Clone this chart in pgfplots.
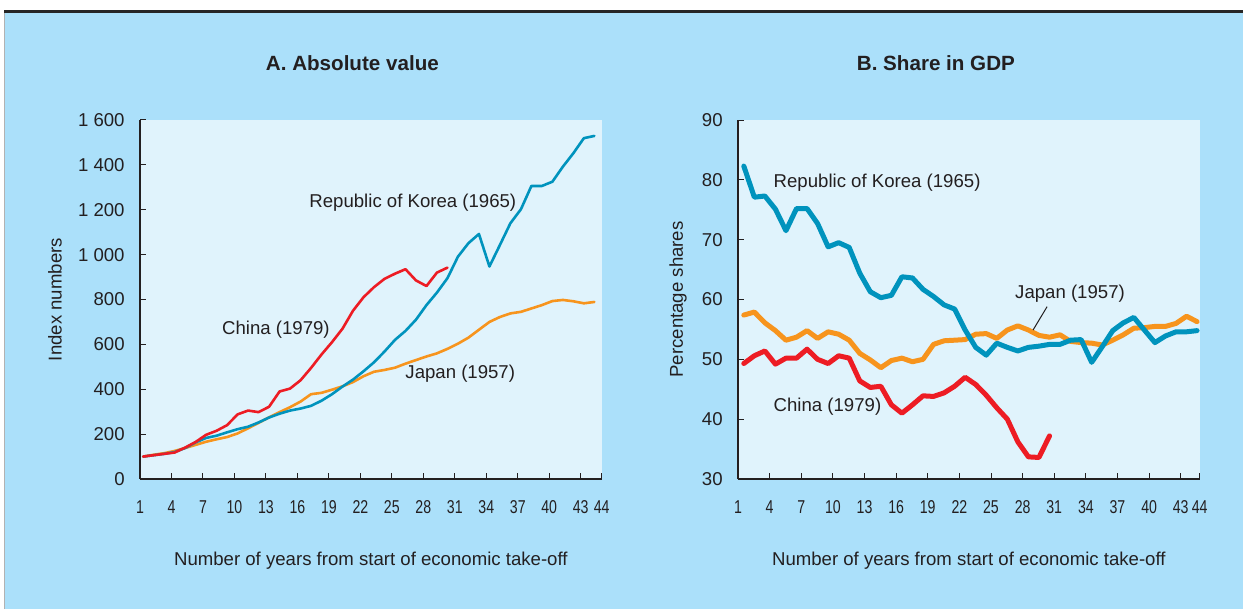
\documentclass[border=0pt]{standalone}
\usepackage{fontspec}
\setmainfont{Liberation Sans}
\newfontfamily\narrowfont{Liberation Sans}[FakeStretch=0.76]
\usepackage{pgfplots}
\pgfplotsset{compat=1.18}
\definecolor{outerbg}{RGB}{171,224,250}
\definecolor{innerbg}{RGB}{224,243,252}
\definecolor{korea}{RGB}{0,147,189}
\definecolor{japan}{RGB}{247,148,29}
\definecolor{china}{RGB}{237,28,36}
\definecolor{txt}{RGB}{35,31,32}
\newcommand{\tfont}{\fontsize{9.3bp}{11bp}\selectfont}
\tikzset{lab/.style={font=\tfont, text=txt, inner sep=0pt, anchor=base west}}
\pgfplotsset{
  panel/.style={
    scale only axis,
    width=230.85bp, height=179.5bp,
    axis x line*=bottom, axis y line*=left,
    axis line style={-, txt, line width=0.6bp},
    axis background/.style={fill=innerbg},
    tick style={txt, line width=0.5bp},
    tick align=inside,
    major tick length=3bp,
    tick label style={font=\tfont, text=txt, inner sep=0pt},
    yticklabel style={anchor=east, xshift=-7.5bp},
    xticklabel style={anchor=north, yshift=-10.5bp, font=\narrowfont\tfont},
    xticklabels={1,4,7,10,13,16,19,22,25,28,31,34,37,40,43,44},
    label style={font=\tfont, text=txt, inner sep=0pt},
    title style={font=\fontsize{10.3bp}{12bp}\selectfont\bfseries, text=txt, inner sep=0pt, anchor=base},
    xlabel={Number of years from start of economic take-off},
    every axis plot/.append style={line join=round, line cap=round},
    clip=false,
  },
}
\begin{document}
\begin{tikzpicture}
\fill[white] (0bp,0bp) rectangle (621.5bp,304.5bp);
\fill[outerbg] (2bp,0bp) rectangle (621.5bp,298bp);
\draw[black!30, line width=0.4bp] (2bp,0bp) -- (2bp,298bp);
\fill[black!85] (2bp,298bp) rectangle (621.5bp,299.6bp);

% Panel A
\begin{axis}[panel,
  at={(70bp,65bp)}, anchor=south west,
  xmin=0.7, xmax=44.7,
  xtick={0.7,3.7,6.7,9.7,12.7,15.7,18.7,21.7,24.7,27.7,30.7,33.7,36.7,39.7,42.7,44.7},
  ymin=0, ymax=1600,
  ytick={0,200,400,600,800,1000,1200,1400,1600},
  yticklabels={0,200,400,600,800,1 000,1 200,1 400,1 600},
  title={A. Absolute value},
  title style={at={(axis description cs:0.46,1)}, yshift=18.85bp},
  ylabel={Index numbers},
  ylabel style={at={(axis description cs:-0.184,0.5)}, anchor=center},
  xlabel style={at={(axis description cs:0.5,-0.2033)}, anchor=north},
]
\addplot[japan, line width=1.3bp] coordinates {
(1,100)(2,108)(3,115)(4,125)(5,138)(6,152)(7,166)(8,177)(9,187)(10,203)
(11,226)(12,250)(13,275)(14,298)(15,320)(16,345)(17,378)(18,384)(19,398)(20,413)
(21,432)(22,458)(23,478)(24,486)(25,496)(26,514)(27,530)(28,546)(29,560)(30,580)
(31,603)(32,630)(33,665)(34,700)(35,722)(36,738)(37,745)(38,760)(39,775)(40,793)
(41,798)(42,792)(43,783)(44,789)};
\addplot[korea, line width=1.3bp] coordinates {
(1,100)(2,106)(3,112)(4,120)(5,138)(6,163)(7,183)(8,193)(9,208)(10,222)
(11,233)(12,252)(13,274)(14,291)(15,305)(16,314)(17,326)(18,349)(19,378)(20,412)
(21,443)(22,480)(23,520)(24,568)(25,620)(26,660)(27,710)(28,775)(29,831)(30,895)
(31,991)(32,1051)(33,1092)(34,947)(35,1043)(36,1140)(37,1202)(38,1306)(39,1306)(40,1325)
(41,1392)(42,1452)(43,1519)(44,1529)};
\addplot[china, line width=1.3bp] coordinates {
(1,100)(2,106)(3,112)(4,118)(5,140)(6,165)(7,197)(8,215)(9,240)(10,288)
(11,305)(12,298)(13,322)(14,390)(15,403)(16,440)(17,495)(18,555)(19,610)(20,670)
(21,750)(22,810)(23,855)(24,892)(25,915)(26,935)(27,885)(28,860)(29,920)(30,942)};
\node[lab] at (axis cs:16.81,1208) {Republic of Korea (1965)};
\node[lab] at (axis cs:8.49,646) {China (1979)};
\node[lab] at (axis cs:25.96,450) {Japan (1957)};
\end{axis}

% Panel B
\begin{axis}[panel,
  at={(369bp,65bp)}, anchor=south west,
  xmin=0.45, xmax=44.25,
  xtick={0.45,3.45,6.45,9.45,12.45,15.45,18.45,21.45,24.45,27.45,30.45,33.45,36.45,39.45,42.45,44.25},
  ymin=30, ymax=90,
  ytick={30,40,50,60,70,80,90},
  yticklabels={30,40,50,60,70,80,90},
  title={B. Share in GDP},
  title style={at={(axis description cs:0.4286,1)}, yshift=18.85bp},
  ylabel={Percentage shares},
  ylabel style={at={(axis description cs:-0.13,0.5)}, anchor=center},
  xlabel style={at={(axis description cs:0.5,-0.2033)}, anchor=north},
]
\addplot[japan, line width=2.5bp] coordinates {
(1,57.4)(2,57.9)(3,56.1)(4,54.8)(5,53.2)(6,53.7)(7,54.8)(8,53.5)(9,54.6)(10,54.2)
(11,53.2)(12,51.0)(13,49.9)(14,48.6)(15,49.8)(16,50.2)(17,49.6)(18,50.0)(19,52.5)(20,53.1)
(21,53.2)(22,53.3)(23,54.2)(24,54.3)(25,53.5)(26,54.9)(27,55.6)(28,54.9)(29,54.0)(30,53.7)
(31,54.1)(32,53.0)(33,52.8)(34,52.7)(35,52.4)(36,53.2)(37,54.1)(38,55.2)(39,55.3)(40,55.5)
(41,55.5)(42,56.0)(43,57.2)(44,56.3)};
\addplot[china, line width=2.5bp] coordinates {
(1,49.3)(2,50.6)(3,51.4)(4,49.2)(5,50.2)(6,50.2)(7,51.7)(8,50.0)(9,49.3)(10,50.6)
(11,50.2)(12,46.4)(13,45.3)(14,45.5)(15,42.4)(16,41.0)(17,42.4)(18,43.9)(19,43.8)(20,44.4)
(21,45.5)(22,47.0)(23,45.8)(24,44.0)(25,41.9)(26,40.0)(27,36.2)(28,33.7)(29,33.6)(30,37.2)};
\addplot[korea, line width=2.5bp] coordinates {
(1,82.3)(2,77.1)(3,77.3)(4,75.1)(5,71.5)(6,75.2)(7,75.2)(8,72.7)(9,68.8)(10,69.5)
(11,68.7)(12,64.4)(13,61.3)(14,60.3)(15,60.7)(16,63.8)(17,63.6)(18,61.7)(19,60.5)(20,59.1)
(21,58.4)(22,54.9)(23,52.0)(24,50.7)(25,52.7)(26,52.0)(27,51.4)(28,52.0)(29,52.2)(30,52.5)
(31,52.5)(32,53.2)(33,53.3)(34,49.5)(35,52.1)(36,54.8)(37,56.1)(38,57.0)(39,54.9)(40,52.8)
(41,53.9)(42,54.6)(43,54.6)(44,54.8)};
\node[lab] at (axis cs:3.80,78.8) {Republic of Korea (1965)};
\node[lab] at (axis cs:3.80,41.2) {China (1979)};
\node[lab] at (axis cs:26.71,60.25) {Japan (1957)};
\draw[txt, line width=0.5bp] (axis cs:29.77,58.8) -- (axis cs:28.44,54.9);
\end{axis}
\end{tikzpicture}
\end{document}
